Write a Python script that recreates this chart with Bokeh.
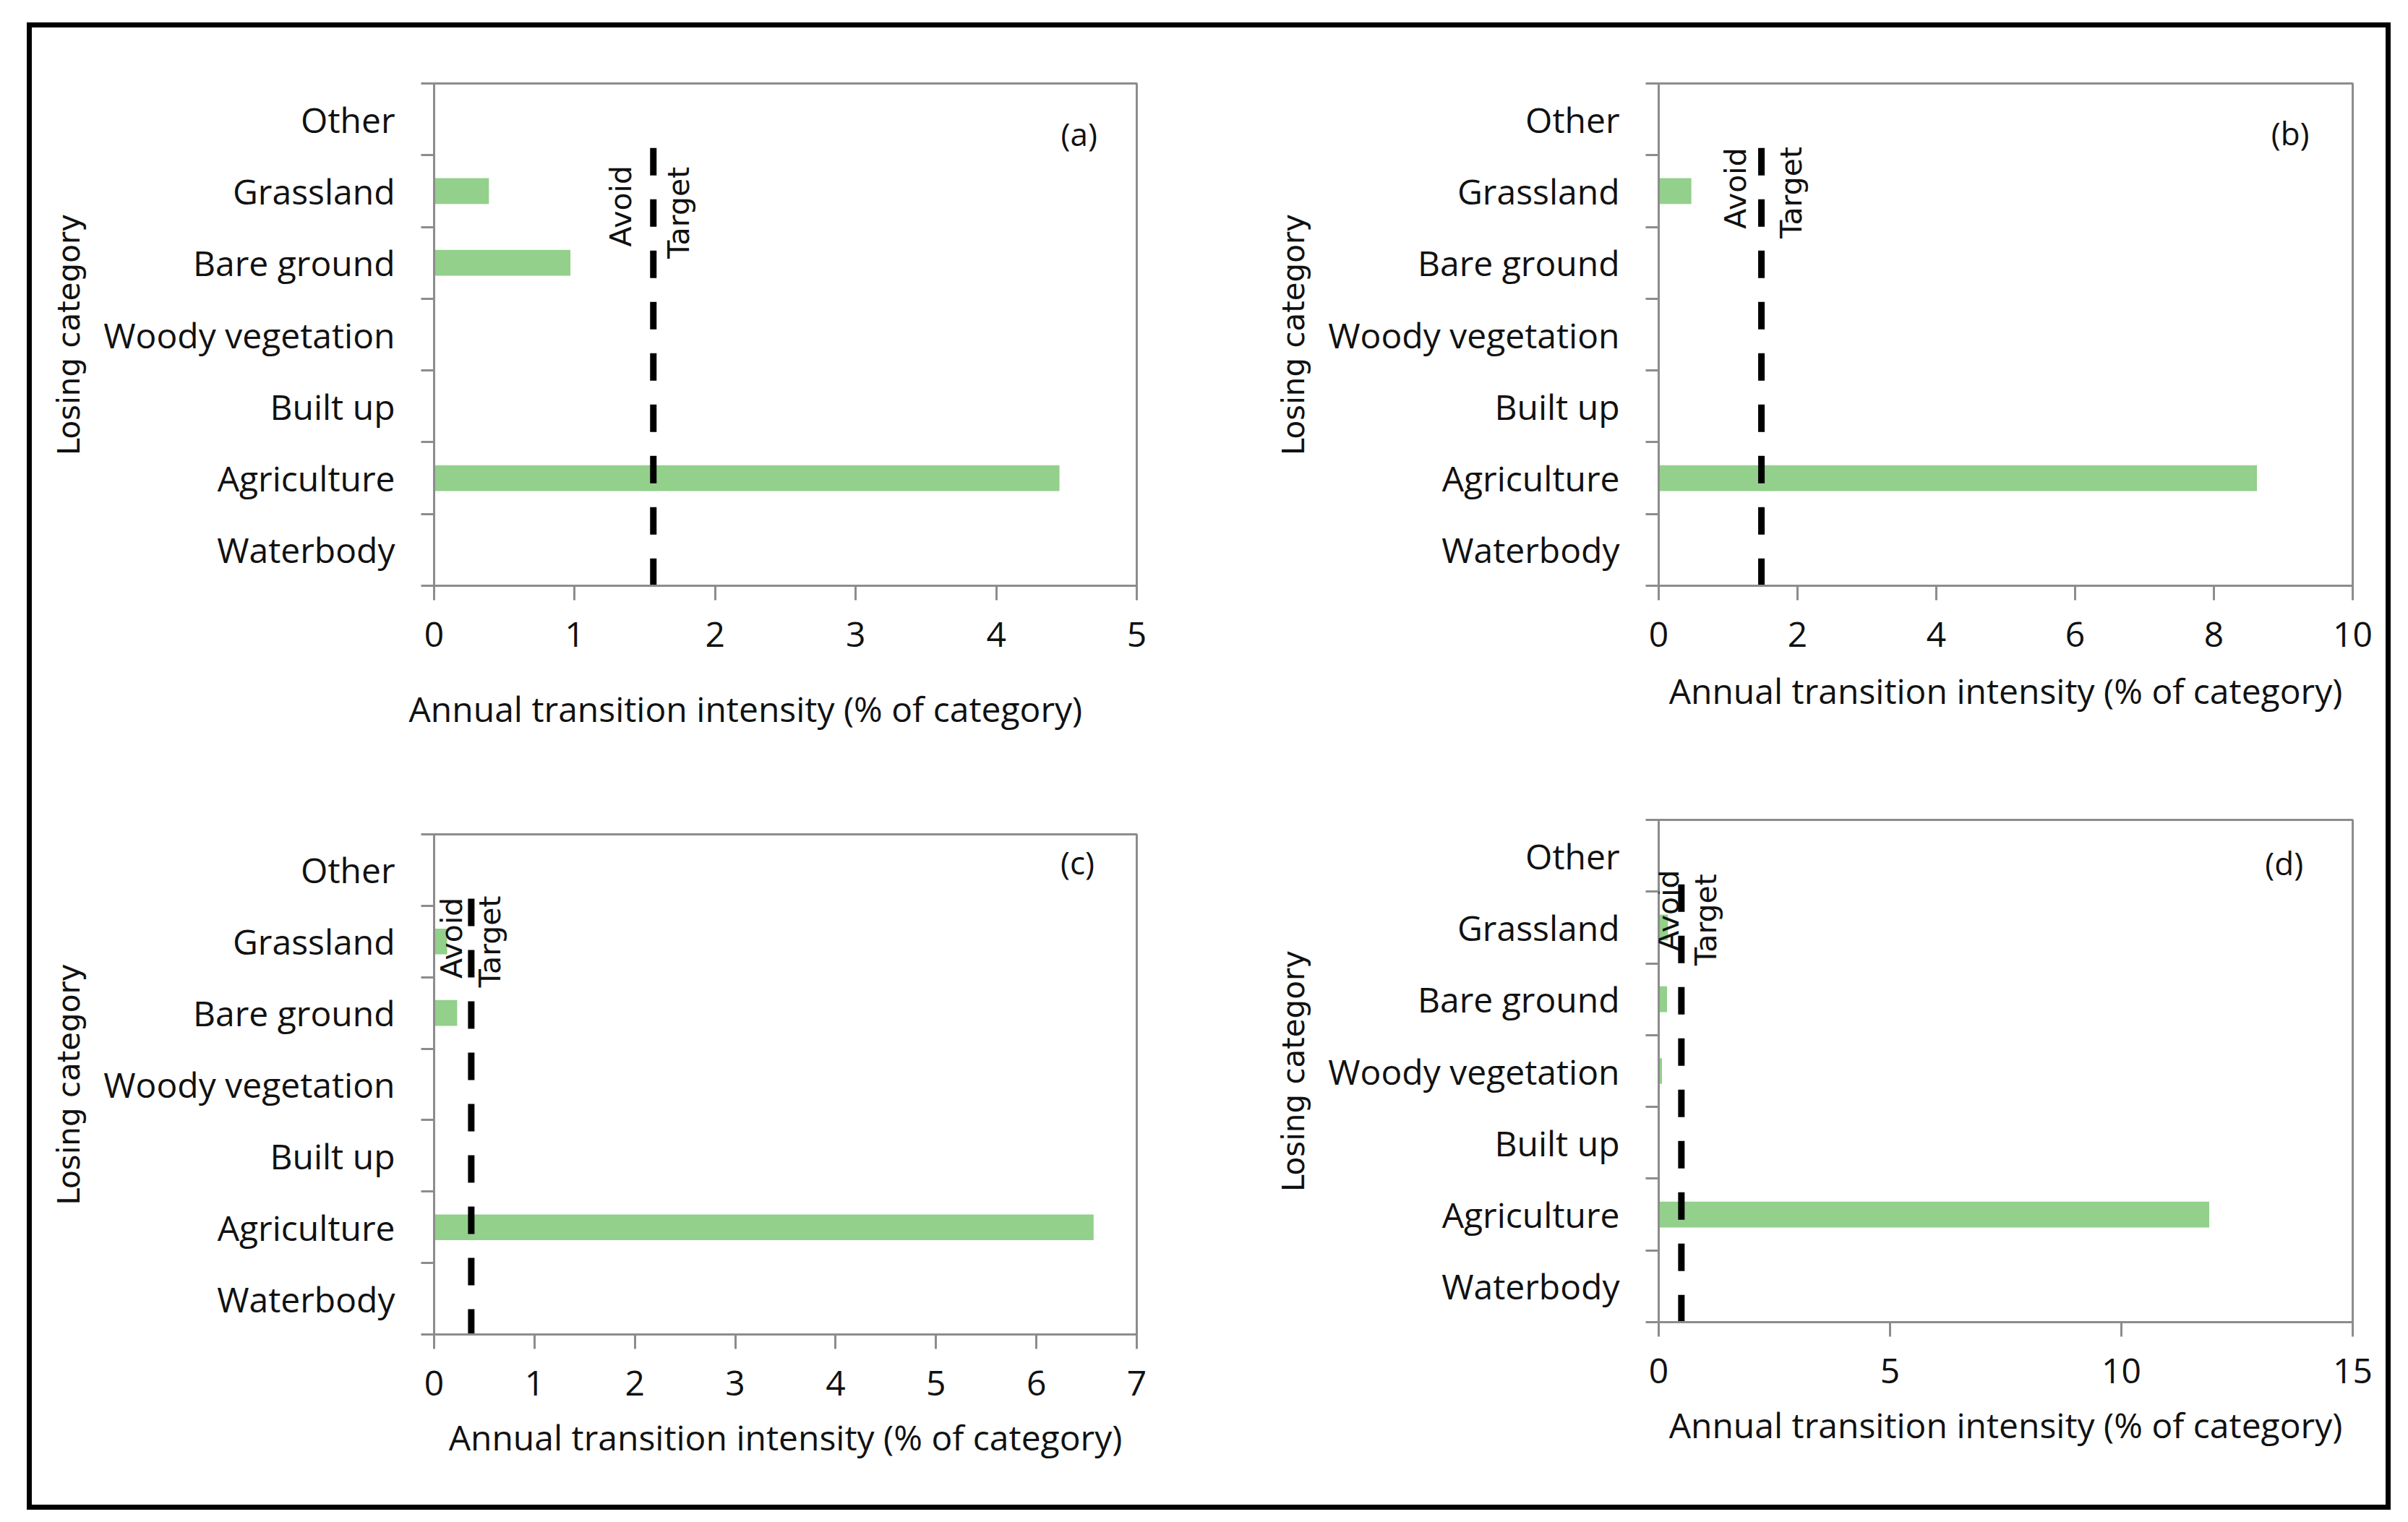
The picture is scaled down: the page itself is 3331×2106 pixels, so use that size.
import numpy as np
from bokeh.plotting import figure
from bokeh.models import Range1d, FixedTicker, Label, ColumnDataSource, Title
from bokeh.layouts import row, column
from bokeh.embed import file_html
from bokeh.resources import INLINE

# ---------------- data ----------------
categories = ["Waterbody", "Agriculture", "Built up", "Woody vegetation",
              "Bare ground", "Grassland", "Other"]
panel_ids = ["(a)", "(b)", "(c)", "(d)"]
intensity_a = [0, 4.45, 0, 0, 0.97, 0.39, 0]
intensity_b = [0, 8.62, 0, 0, 0, 0.47, 0]
intensity_c = [0, 6.57, 0, 0, 0.23, 0.13, 0]
intensity_d = [0, 11.9, 0, 0.07, 0.18, 0.20, 0]
uniform_intensity = [1.56, 1.48, 0.37, 0.49]
x_max = [5, 10, 7, 15]
x_ticks = [[0, 1, 2, 3, 4, 5], [0, 2, 4, 6, 8, 10],
           [0, 1, 2, 3, 4, 5, 6, 7], [0, 5, 10, 15]]
line_top = 6.1
avoid_label = "Avoid"
target_label = "Target"
x_title = "Annual transition intensity (% of category)"
y_title = "Losing category"

# ---------------- styles / layout ----------------
GREEN = "#92d08b"
GRAY = "#8c8c8c"
TXT = "#111111"
LBL_FONT = "Open Sans"
ROT_FONT = "DejaVu Sans"

cfgs = [
    dict(w=1606, h=1022, l=556, r=78, t=77, b=250, xstand=None,
         title_below=dict(offset=-35, standoff=96),
         lab=(4.59, 6.30), av=(5.29, -45), tg=(5.20, 35)),
    dict(w=1650, h=1022, l=644, r=46, t=77, b=250, xstand=25,
         title_below=None,
         lab=(9.1, 6.31), av=(5.54, -36), tg=(5.48, 41)),
    dict(w=1606, h=1022, l=556, r=78, t=94, b=236, xstand=22,
         title_below=None,
         lab=(6.41, 6.61), av=(5.55, -27), tg=(5.50, 26)),
    dict(w=1650, h=1022, l=644, r=46, t=74, b=253, xstand=22,
         title_below=None,
         lab=(13.52, 6.40), av=(5.74, -18), tg=(5.61, 34)),
]


def make_panel(vals, xmax, ticks, uline, pid, cfg):
    n = len(categories)
    centers = [i + 0.5 for i in range(n)]
    p = figure(width=cfg["w"], height=cfg["h"],
               x_range=Range1d(0, xmax), y_range=Range1d(0, n),
               output_backend="svg", toolbar_location=None,
               min_border_left=cfg["l"], min_border_right=cfg["r"],
               min_border_top=cfg["t"], min_border_bottom=cfg["b"])
    p.grid.visible = False
    p.background_fill_color = "white"
    p.border_fill_color = "white"
    p.outline_line_color = GRAY
    p.outline_line_width = 3

    src = ColumnDataSource(dict(y=centers, right=vals, cat=categories))
    p.hbar(y="y", left=0, right="right", height=0.36, source=src,
           fill_color=GREEN, line_color=None)

    p.line(x=[uline, uline], y=[line_top, 0], line_color="black",
           line_width=9, line_dash="38 33")

    for txt, (yy, dx) in ((avoid_label, cfg["av"]), (target_label, cfg["tg"])):
        p.add_layout(Label(x=uline, y=yy, text=txt, angle=np.pi / 2,
                           x_offset=dx, text_align="center",
                           text_baseline="middle", text_font=ROT_FONT,
                           text_font_size="41px", text_color=TXT))

    p.add_layout(Label(x=cfg["lab"][0], y=cfg["lab"][1], text=pid,
                       text_align="center", text_baseline="middle",
                       text_font=LBL_FONT, text_font_size="44px",
                       text_color=TXT))

    xa = p.xaxis[0]
    xa.ticker = FixedTicker(ticks=ticks)
    xa.major_tick_out = 20
    xa.major_tick_in = 0
    xa.minor_tick_out = 0
    xa.minor_tick_in = 0
    xa.axis_line_color = GRAY
    xa.axis_line_width = 3
    xa.major_tick_line_color = GRAY
    xa.major_tick_line_width = 3
    xa.major_label_standoff = 30
    xa.major_label_text_font = LBL_FONT
    xa.major_label_text_font_size = "48px"
    xa.major_label_text_color = TXT
    if cfg["title_below"] is None:
        xa.axis_label = x_title
        xa.axis_label_text_font = LBL_FONT
        xa.axis_label_text_font_size = "48px"
        xa.axis_label_text_font_style = "normal"
        xa.axis_label_text_color = TXT
        xa.axis_label_standoff = cfg["xstand"]
    else:
        tb = cfg["title_below"]
        p.add_layout(Title(text=x_title, align="left", offset=tb["offset"],
                           standoff=tb["standoff"], text_font=LBL_FONT,
                           text_font_size="48px", text_font_style="normal",
                           text_color=TXT), "below")

    ya = p.yaxis[0]
    ya.ticker = FixedTicker(ticks=centers, minor_ticks=list(range(n + 1)))
    ya.major_label_overrides = {c: cat for c, cat in zip(centers, categories)}
    ya.major_tick_out = 0
    ya.major_tick_in = 0
    ya.minor_tick_out = 18
    ya.minor_tick_in = 0
    ya.minor_tick_line_color = GRAY
    ya.minor_tick_line_width = 3
    ya.axis_line_color = GRAY
    ya.axis_line_width = 3
    ya.major_label_standoff = 36
    ya.major_label_text_font = LBL_FONT
    ya.major_label_text_font_size = "48px"
    ya.major_label_text_color = TXT
    ya.axis_label = y_title
    ya.axis_label_text_font = ROT_FONT
    ya.axis_label_text_font_size = "42px"
    ya.axis_label_text_font_style = "normal"
    ya.axis_label_text_color = TXT
    ya.axis_label_standoff = 20
    return p


series = [intensity_a, intensity_b, intensity_c, intensity_d]
panels = [make_panel(series[i], x_max[i], x_ticks[i], uniform_intensity[i],
                     panel_ids[i], cfgs[i]) for i in range(4)]

layout = row(column(panels[0], panels[2]), column(panels[1], panels[3]),
             styles={"border": "7px solid black",
                     "margin-left": "37px", "margin-top": "31px",
                     "background-color": "white"})

open("out.html", "w").write(file_html(layout, INLINE))
